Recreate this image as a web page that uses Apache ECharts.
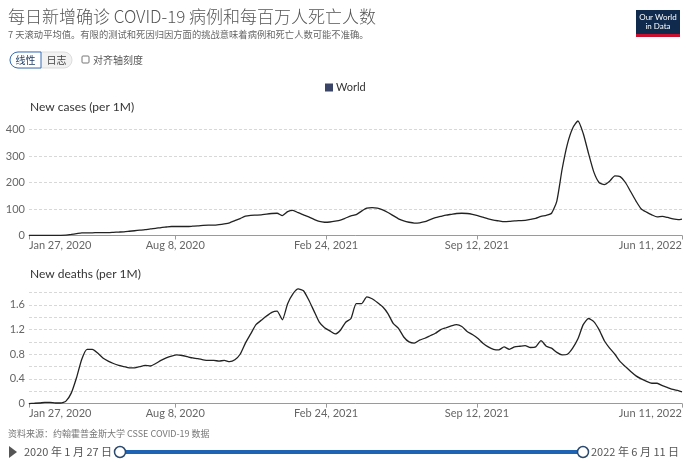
<!DOCTYPE html>
<html><head><meta charset="utf-8">
<script src="https://cdn.jsdelivr.net/npm/echarts@6/dist/echarts.min.js"></script>
<style>html,body{margin:0;padding:0;background:#fff;}#c{width:690px;height:462px;}</style>
</head><body><div id="c"></div>
<script>
// Weekly sample dates (7-day rolling averages, World)
var dates = [
'2020-01-27','2020-02-03','2020-02-10','2020-02-17','2020-02-24','2020-03-02','2020-03-09','2020-03-16','2020-03-23','2020-03-30',
'2020-04-06','2020-04-13','2020-04-20','2020-04-27','2020-05-04','2020-05-11','2020-05-18','2020-05-25','2020-06-01','2020-06-08',
'2020-06-15','2020-06-22','2020-06-29','2020-07-06','2020-07-13','2020-07-20','2020-07-27','2020-08-03','2020-08-10','2020-08-17',
'2020-08-24','2020-08-31','2020-09-07','2020-09-14','2020-09-21','2020-09-28','2020-10-05','2020-10-12','2020-10-19','2020-10-26',
'2020-11-02','2020-11-09','2020-11-16','2020-11-23','2020-11-30','2020-12-07','2020-12-14','2020-12-21','2020-12-28','2021-01-04',
'2021-01-11','2021-01-18','2021-01-25','2021-02-01','2021-02-08','2021-02-15','2021-02-22','2021-03-01','2021-03-08','2021-03-15',
'2021-03-22','2021-03-29','2021-04-05','2021-04-12','2021-04-19','2021-04-26','2021-05-03','2021-05-10','2021-05-17','2021-05-24',
'2021-05-31','2021-06-07','2021-06-14','2021-06-21','2021-06-28','2021-07-05','2021-07-12','2021-07-19','2021-07-26','2021-08-02',
'2021-08-09','2021-08-16','2021-08-23','2021-08-30','2021-09-06','2021-09-13','2021-09-20','2021-09-27','2021-10-04','2021-10-11',
'2021-10-18','2021-10-25','2021-11-01','2021-11-08','2021-11-15','2021-11-22','2021-11-29','2021-12-06','2021-12-13','2021-12-20',
'2021-12-27','2022-01-03','2022-01-10','2022-01-17','2022-01-24','2022-01-31','2022-02-07','2022-02-14','2022-02-21','2022-02-28',
'2022-03-07','2022-03-14','2022-03-21','2022-03-28','2022-04-04','2022-04-11','2022-04-18','2022-04-25','2022-05-02','2022-05-09',
'2022-05-16','2022-05-23','2022-05-30','2022-06-06','2022-06-11'
];
// New cases per million
var cases = [
0.3,0.4,0.4,0.3,0.3,0.3,0.6,1.5,4,7,
10,10,10,11,11,11,12,13,14,16,
18,20,22,25,27,30,32,34,34,34,
34,35,36,38,39,39,41,44,48,56,
64,73,76,77,78,81,83,84,75,90,
95,86,78,70,61,53,50,51,54,58,
66,74,79,92,103,105,103,97,87,75,
63,55,50,47,48,52,60,67,72,77,
80,83,84,83,80,75,69,63,58,55,
52,53,55,56,57,61,65,72,76,84,
130,250,345,405,432,385,310,240,200,192,
205,225,222,200,165,130,100,88,78,70,
72,68,63,60,62
];
// New deaths per million
var deaths = [
0.001,0.005,0.01,0.02,0.02,0.01,0.01,0.04,0.17,0.42,
0.72,0.88,0.88,0.82,0.74,0.69,0.65,0.62,0.60,0.58,
0.58,0.60,0.62,0.61,0.65,0.70,0.74,0.77,0.79,0.78,
0.76,0.74,0.73,0.71,0.70,0.70,0.69,0.70,0.68,0.71,
0.80,0.98,1.13,1.28,1.35,1.42,1.48,1.50,1.36,1.62,
1.78,1.86,1.83,1.68,1.50,1.32,1.23,1.18,1.13,1.19,
1.32,1.38,1.62,1.62,1.73,1.70,1.64,1.57,1.46,1.30,
1.22,1.08,1.00,0.98,1.03,1.06,1.10,1.14,1.20,1.23,
1.26,1.28,1.25,1.17,1.12,1.06,0.98,0.92,0.88,0.87,
0.92,0.88,0.92,0.93,0.94,0.91,0.92,1.02,0.93,0.90,
0.83,0.79,0.80,0.90,1.05,1.28,1.38,1.33,1.20,1.02,
0.90,0.80,0.68,0.60,0.52,0.45,0.40,0.36,0.33,0.33,
0.29,0.26,0.23,0.21,0.19
];
var tickDates = ['2020-01-27','2020-08-08','2021-02-24','2021-09-12','2022-06-11'];
var casesTicks = [0,100,200,300,400];
var deathsTicks = [0,0.4,0.8,1.2,1.6];

var MONTHS = ['Jan','Feb','Mar','Apr','May','Jun','Jul','Aug','Sep','Oct','Nov','Dec'];
function ts(s){var p=s.split('-');return new Date(+p[0],+p[1]-1,+p[2]).getTime();}
function fmtDate(v){var d=new Date(v);return MONTHS[d.getMonth()]+' '+d.getDate()+', '+d.getFullYear();}
var tickTs = tickDates.map(ts);
function pairs(vals){return dates.map(function(d,i){return [ts(d),vals[i]];});}

var FONT = 'Lato, "Noto Sans CJK SC", sans-serif';
function xAxis(gi){
  return {
    type:'value', gridIndex:gi, min:ts(dates[0]), max:ts(dates[dates.length-1]),
    axisLine:{show:true,onZero:false,lineStyle:{color:'#9a9a9a',width:1}},
    axisTick:{show:true,customValues:tickTs,length:4,lineStyle:{color:'#9a9a9a'}},
    axisLabel:{customValues:tickTs,formatter:fmtDate,color:'#666',fontFamily:FONT,fontSize:11,margin:4,
      alignMinLabel:'left',alignMaxLabel:'right',showMinLabel:true,showMaxLabel:true,hideOverlap:false},
    splitLine:{show:false}
  };
}
var chart = echarts.init(document.getElementById('c'),null,{renderer:'canvas'});
chart.setOption({
  animation:false,
  backgroundColor:'#fff',
  textStyle:{fontFamily:FONT},
  grid:[
    {left:29,right:8,top:129.5,height:106},
    {left:29,right:8,top:292.6,height:111}
  ],
  legend:{
    data:[{name:'World',icon:'rect',itemStyle:{color:'#3a4466'}}],
    left:320,top:77,itemWidth:8,itemHeight:8,itemGap:4,
    textStyle:{color:'#333',fontSize:11,fontFamily:FONT,padding:[0,0,0,-2]},selectedMode:false
  },
  xAxis:[xAxis(0),xAxis(1)],
  yAxis:[
    {type:'value',gridIndex:0,min:casesTicks[0],max:casesTicks[casesTicks.length-1],interval:casesTicks[1]-casesTicks[0],
     axisLine:{show:false},axisTick:{show:false},
     axisLabel:{color:'#666',fontFamily:FONT,fontSize:11,margin:4},
     splitLine:{show:true,lineStyle:{color:'#d8d8d8',type:[3,2],width:1}}},
    {type:'value',gridIndex:1,min:0,max:1.8,interval:0.2,
     axisLine:{show:false},axisTick:{show:false},
     axisLabel:{color:'#666',fontFamily:FONT,fontSize:11,margin:4,formatter:function(v){
        for(var i=0;i<deathsTicks.length;i++){if(Math.abs(deathsTicks[i]-v)<1e-6){return v===0?'0':deathsTicks[i].toFixed(1);}}
        return '';}},
     splitLine:{show:true,lineStyle:{color:'#d8d8d8',type:[3,2],width:1}}}
  ],
  series:[
    {name:'World',type:'line',xAxisIndex:0,yAxisIndex:0,data:pairs(cases),showSymbol:false,clip:false,smooth:0.2,
     lineStyle:{color:'#222',width:1.3},itemStyle:{color:'#3a4466'}},
    {name:'World',type:'line',xAxisIndex:1,yAxisIndex:1,data:pairs(deaths),showSymbol:false,clip:false,smooth:0.2,
     lineStyle:{color:'#222',width:1.3},itemStyle:{color:'#3a4466'}}
  ],
  graphic:[
    {type:'text',left:8,top:8,style:{text:'每日新增确诊 COVID-19 病例和每百万人死亡人数',font:'300 17px "Noto Sans CJK SC", serif',fill:'#555'}},
    {type:'text',left:8,top:30,style:{text:'7 天滚动平均值。有限的测试和死因归因方面的挑战意味着病例和死亡人数可能不准确。',font:'9.3px "Noto Sans CJK SC", sans-serif',fill:'#666'}},
    {type:'rect',shape:{x:636,y:10,width:44,height:27},style:{fill:'#0f2a4d'}},
    {type:'rect',shape:{x:636,y:34,width:44,height:3},style:{fill:'#c8102e'}},
    {type:'text',x:658,y:13,style:{text:'Our World\nin Data',font:'8px Lato, sans-serif',fill:'#fff',align:'center',lineHeight:9}},
    {type:'rect',shape:{x:10,y:52,width:62,height:16,r:8},style:{fill:'#f2f2f2',stroke:'#ddd',lineWidth:1}},
    {type:'rect',shape:{x:10,y:52,width:31,height:16,r:[8,0,0,8]},style:{fill:'#fff',stroke:'#3b6fb6',lineWidth:1}},
    {type:'text',x:25.5,y:60,style:{text:'线性',font:'10px "Noto Sans CJK SC", sans-serif',fill:'#1d3d63',align:'center',verticalAlign:'middle'}},
    {type:'text',x:56.5,y:60,style:{text:'日志',font:'10px "Noto Sans CJK SC", sans-serif',fill:'#444',align:'center',verticalAlign:'middle'}},
    {type:'rect',shape:{x:82,y:56,width:7,height:7,r:1},style:{fill:'#fff',stroke:'#777',lineWidth:1}},
    {type:'text',x:93,y:60,style:{text:'对齐轴刻度',font:'10px "Noto Sans CJK SC", sans-serif',fill:'#555',verticalAlign:'middle'}},
    {type:'text',x:30,y:107,style:{text:'New cases (per 1M)',font:'12px Lato, sans-serif',fill:'#333',verticalAlign:'middle'}},
    {type:'text',x:30,y:274,style:{text:'New deaths (per 1M)',font:'12px Lato, sans-serif',fill:'#333',verticalAlign:'middle'}},
    {type:'text',x:8,y:434,style:{text:'资料来源：约翰霍普金斯大学 CSSE COVID-19 数据',font:'9px "Noto Sans CJK SC", sans-serif',fill:'#777',verticalAlign:'middle'}},
    {type:'polygon',shape:{points:[[9,446],[9,458],[17,452]]},style:{fill:'#555'}},
    {type:'text',x:24,y:452,style:{text:'2020 年 1 月 27 日',font:'11px "Noto Sans CJK SC", sans-serif',fill:'#555',verticalAlign:'middle'}},
    {type:'line',shape:{x1:120,y1:452,x2:583,y2:452},style:{stroke:'#1f63b5',lineWidth:4}},
    {type:'circle',shape:{cx:120,cy:452,r:5.5},style:{fill:'#fff',stroke:'#2b4a6e',lineWidth:1.5}},
    {type:'circle',shape:{cx:583,cy:452,r:5.5},style:{fill:'#fff',stroke:'#2b4a6e',lineWidth:1.5}},
    {type:'text',x:591,y:452,style:{text:'2022 年 6 月 11 日',font:'11px "Noto Sans CJK SC", sans-serif',fill:'#555',verticalAlign:'middle'}}
  ]
});
</script>
</body></html>
